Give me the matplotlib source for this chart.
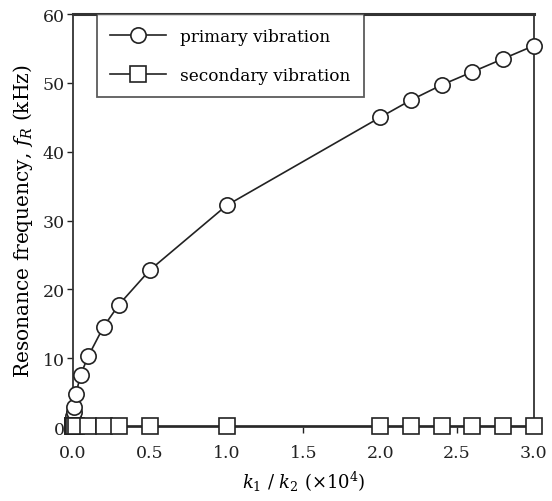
import matplotlib.pyplot as plt

plt.rcParams['font.family'] = ['DejaVu Serif']
plt.rcParams['mathtext.fontset'] = 'dejavuserif'

# primary vibration (circles)
k_primary = [0.0005, 0.001, 0.002, 0.005, 0.01, 0.02, 0.05, 0.1, 0.2, 0.3,
             0.5, 1.0, 2.0, 2.2, 2.4, 2.6, 2.8, 3.0]
f_primary = [0.5, 1.0, 1.6, 2.2, 3.0, 4.8, 7.6, 10.3, 14.6, 17.8,
             22.8, 32.2, 45.0, 47.5, 49.7, 51.6, 53.5, 55.4]

# secondary vibration (squares)
k_secondary = [0.0005, 0.001, 0.002, 0.005, 0.01, 0.02, 0.1, 0.2, 0.3,
               0.5, 1.0, 2.0, 2.2, 2.4, 2.6, 2.8, 3.0]
f_secondary = [0.2] * len(k_secondary)

fig = plt.figure(figsize=(5.52, 5.02), dpi=100)
ax = fig.add_axes([0.132, 0.147, 0.835, 0.823])

ax.plot(k_primary, f_primary, color='#222222', lw=1.2, marker='o', ms=11,
        mfc='white', mec='#222222', mew=1.2, clip_on=False, zorder=3,
        label='primary vibration')
ax.plot(k_secondary, f_secondary, color='#222222', lw=1.2, marker='s', ms=11,
        mfc='white', mec='#222222', mew=1.2, clip_on=False, zorder=3,
        label='secondary vibration')

ax.set_xlim(0, 3.0)
ax.set_ylim(0, 60)
ax.set_xticks([0.0, 0.5, 1.0, 1.5, 2.0, 2.5, 3.0])
ax.set_xticklabels(['0.0', '0.5', '1.0', '1.5', '2.0', '2.5', '3.0'])
ax.set_yticks([0, 10, 20, 30, 40, 50, 60])
ax.tick_params(direction='out', length=4, width=1, labelsize=12.5, colors='#222222')
ax.tick_params(axis='x', pad=8)
ax.tick_params(axis='y', pad=2)

for s in ax.spines.values():
    s.set_linewidth(1.3)
    s.set_color('#333333')
ax.spines['top'].set_linewidth(2.2)

ax.set_xlabel(r'$k_1$ / $k_2$ ($\times$10$^4$)', fontsize=13, labelpad=6)
ax.set_ylabel(r'Resonance frequency, $f_R$ (kHz)', fontsize=14.5, labelpad=5)

leg = ax.legend(loc='upper left', bbox_to_anchor=(0.052, 1.0), borderaxespad=0,
                fancybox=False, edgecolor='#333333', fontsize=12.2,
                handlelength=3.3, handletextpad=0.8, labelspacing=1.3,
                borderpad=0.8)
leg.get_frame().set_linewidth(1.3)

fig.savefig('out.png', dpi=100)
